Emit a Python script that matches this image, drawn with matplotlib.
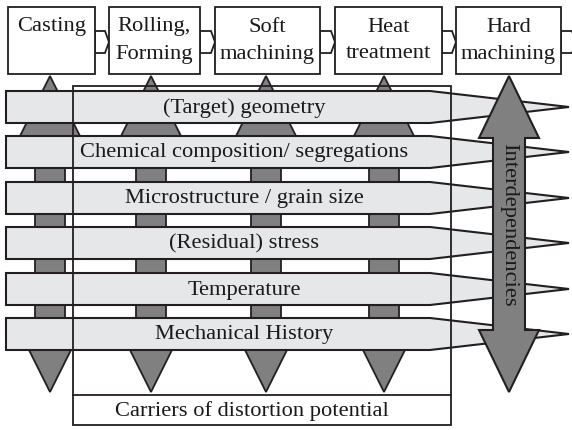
import matplotlib.pyplot as plt
from matplotlib.patches import Polygon, Rectangle

plt.rcParams["font.family"] = ["Liberation Serif", "DejaVu Serif"]

# process chain (top boxes), two text lines each
steps = [("Casting", ""), ("Rolling,", "Forming"), ("Soft", "machining"),
         ("Heat", "treatment"), ("Hard", "machining")]
step_left = [8, 109, 215, 335, 456]
step_right = [95, 200, 320, 442, 561]

# carriers of distortion potential (horizontal bands)
carriers = ["(Target) geometry", "Chemical composition/ segregations",
            "Microstructure / grain size", "(Residual) stress",
            "Temperature", "Mechanical History"]
band_top = [91, 136, 182, 227, 273, 318]

# vertical double arrows under the first four steps
arrow_x = [50, 151, 266, 384]

EDGE = "#231f20"
TEXT = "#1a1a1a"
BAND = "#e6e7e8"
GREY = "#808080"
FS = 16.2


def double_arrow(cx, top, bot, head_len, head_hw, shaft_hw):
    hb_t = top + head_len
    hb_b = bot - head_len
    return [(cx, top), (cx + head_hw, hb_t), (cx + shaft_hw, hb_t),
            (cx + shaft_hw, hb_b), (cx + head_hw, hb_b), (cx, bot),
            (cx - head_hw, hb_b), (cx - shaft_hw, hb_b), (cx - shaft_hw, hb_t),
            (cx - head_hw, hb_t)]


fig = plt.figure(figsize=(5.72, 4.30), dpi=100)
ax = fig.add_axes([0, 0, 1, 1])
ax.set_xlim(0, 572)
ax.set_ylim(430, 0)
ax.axis("off")

# top process boxes and connectors
for i, (l1, l2) in enumerate(steps):
    x0, x1 = step_left[i], step_right[i]
    ax.add_patch(Rectangle((x0, 7), x1 - x0, 67, facecolor="white",
                           edgecolor=EDGE, linewidth=1.3, zorder=3))
    xc = (x0 + x1) / 2
    ax.text(xc, 27, l1, ha="center", va="center", fontsize=FS, color=TEXT, zorder=4)
    if l2:
        ax.text(xc, 54, l2, ha="center", va="center", fontsize=FS, color=TEXT, zorder=4)
    nxt = step_left[i + 1] if i + 1 < len(steps) else 576
    conn = [(x1, 31), (nxt - 4, 31), (nxt, 42), (nxt - 4, 53), (x1, 53)]
    ax.add_patch(Polygon(conn, closed=True, facecolor="white", edgecolor=EDGE,
                         linewidth=1.3, zorder=2))

# small vertical arrows (behind the bands)
for cx in arrow_x:
    ax.add_patch(Polygon(double_arrow(cx, 76, 392, 62, 31, 15), closed=True,
                         facecolor=GREY, edgecolor=EDGE, linewidth=1.3, zorder=1))

# carrier bands
for top, label in zip(band_top, carriers):
    bot = top + 32
    mid = (top + bot) / 2
    pts = [(6, top), (430, top), (569, mid), (430, bot), (6, bot)]
    ax.add_patch(Polygon(pts, closed=True, facecolor=BAND, edgecolor=EDGE,
                         linewidth=1.5, joinstyle="miter", zorder=5))
    ax.text(244, mid + 1, label, ha="center", va="center", fontsize=FS,
            color=TEXT, zorder=6)

# frame of the carriers
ax.add_patch(Rectangle((73, 86), 378, 339, facecolor="none", edgecolor=EDGE,
                       linewidth=1.3, zorder=7))
ax.plot([73, 451], [395, 395], color=EDGE, linewidth=1.3, zorder=7)
ax.text(252, 411, "Carriers of distortion potential", ha="center", va="center",
        fontsize=FS, color=TEXT, zorder=7)

# big interdependencies arrow
ax.add_patch(Polygon(double_arrow(509, 76, 392, 62, 30, 16), closed=True,
                     facecolor=GREY, edgecolor=EDGE, linewidth=1.5, zorder=8))
ax.text(509, 225, "Interdependencies", rotation=-90, ha="center", va="center",
        fontsize=FS, color=TEXT, zorder=9)

fig.savefig("out.png", dpi=100)
